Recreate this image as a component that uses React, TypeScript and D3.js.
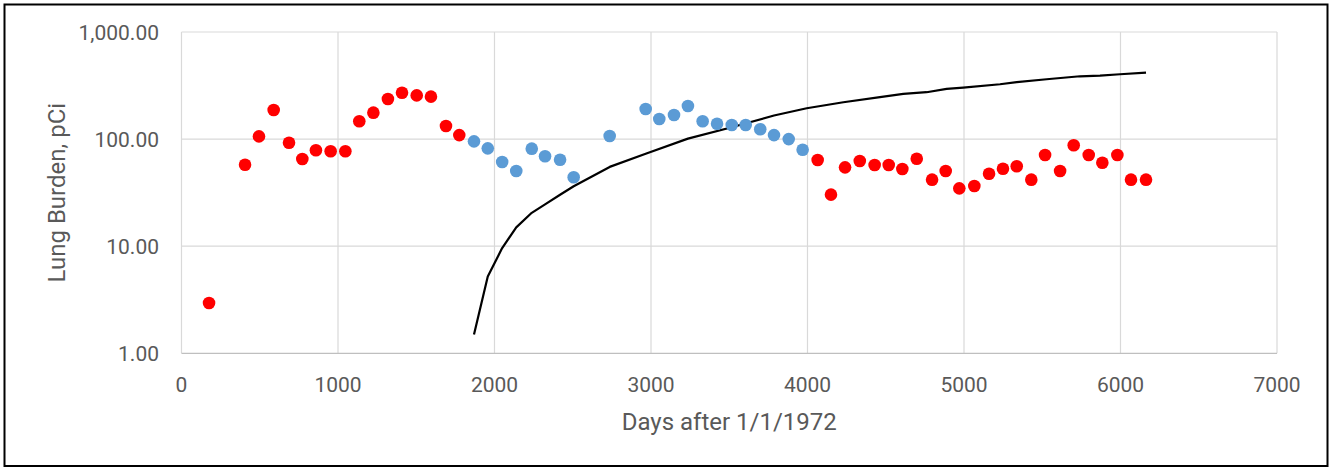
import React from "react";
import * as d3 from "d3";

// ---- data ----
const redDays = [176, 406, 495, 589, 687, 772, 859, 953, 1047, 1136, 1226, 1319, 1409, 1503, 1594, 1690, 1775,
  4065, 4150, 4240, 4334, 4429, 4519, 4606, 4698, 4796, 4883, 4970, 5066, 5160, 5249, 5337, 5430, 5518, 5614, 5701, 5797, 5884, 5980, 6067, 6163];
const redVals = [2.95, 57.7, 106, 187, 92.6, 65.2, 78.6, 76.9, 76.9, 146.6, 176.5, 237, 271, 256, 249, 132.5, 109,
  63.8, 30.3, 54.5, 62.5, 57.3, 57.3, 52.6, 65.6, 41.8, 50.4, 34.7, 36.5, 47.5, 52.9, 55.7, 41.8, 71.1, 50.4, 87.5, 71.1, 60.2, 71.1, 41.8, 41.8];

const blueDays = [1869, 1957, 2049, 2139, 2238, 2323, 2419, 2506, 2736, 2966, 3053, 3147, 3236, 3330, 3422, 3516, 3605, 3698, 3786, 3880, 3969];
const blueVals = [95.3, 82, 61.1, 50.4, 81.4, 69.1, 64.2, 44, 107, 191, 154, 168, 204, 147, 139, 135.5, 135.5, 123.5, 109, 100, 79.6];

const lineDays = [1869, 1957, 2049, 2139, 2238, 2323, 2419, 2506, 2736, 2966, 3236, 3516, 3786, 3995, 4229, 4463, 4612, 4761, 4889, 4995, 5230, 5337, 5528, 5741, 5869, 5997, 6163];
const lineVals = [1.5, 5.2, 9.6, 15.0, 20.5, 24.6, 30.2, 36.3, 55, 73, 101, 129, 166, 194, 221, 247, 264, 274, 294, 302, 325, 341, 362, 386, 391, 403, 417];

const xTicks = [0, 1000, 2000, 3000, 4000, 5000, 6000, 7000];
const yTicks = [1, 10, 100, 1000];

const xTitle = "Days after 1/1/1972";
const yTitle = "Lung Burden, pCi";

export default function App() {
  const W = 1330, H = 468;
  const left = 181.5, right = 1277, top = 32, bottom = 353.3;
  const x = d3.scaleLinear().domain([0, 7000]).range([left, right]);
  const y = d3.scaleLog().domain([1, 1000]).range([bottom, top]);
  const fmt = d3.format(",.2f");
  const font = "Roboto, 'Noto Sans', sans-serif";
  const lineGen = d3.line<number>().x((d, i) => x(lineDays[i])).y((d) => y(d)).curve(d3.curveLinear);

  return (
    <svg width={W} height={H} style={{ position: "absolute", left: 0, top: 0, background: "#fff", display: "block" }}>
      <rect x={0} y={0} width={W} height={H} fill="#fff" />
      {/* grid */}
      {xTicks.map((t) => (
        <line key={"gx" + t} x1={x(t)} x2={x(t)} y1={top} y2={bottom} stroke="#d9d9d9" strokeWidth={1.2} />
      ))}
      {yTicks.map((t) => (
        <line key={"gy" + t} x1={left} x2={right} y1={y(t)} y2={y(t)} stroke={t === 1 ? "#bfbfbf" : "#d9d9d9"} strokeWidth={1.2} />
      ))}
      {/* tick labels */}
      {xTicks.map((t) => (
        <text key={"tx" + t} x={x(t)} y={392} textAnchor="middle" fontFamily={font} fontSize={21} fill="#595959">
          {String(t)}
        </text>
      ))}
      {yTicks.map((t) => (
        <text key={"ty" + t} x={159} y={y(t) + 7.5} textAnchor="end" fontFamily={font} fontSize={21} fill="#595959">
          {fmt(t)}
        </text>
      ))}
      {/* axis titles */}
      <text x={(left + right) / 2} y={429.5} textAnchor="middle" fontFamily={font} fontSize={24} fill="#595959">
        {xTitle}
      </text>
      <text transform={`translate(65,${(top + bottom) / 2}) rotate(-90)`} textAnchor="middle" fontFamily={font} fontSize={24} fill="#595959">
        {yTitle}
      </text>
      {/* line */}
      <path d={lineGen(lineVals) || ""} fill="none" stroke="#000" strokeWidth={2.2} strokeLinejoin="round" />
      {/* points */}
      {blueVals.map((v, i) => (
        <circle key={"b" + i} cx={x(blueDays[i])} cy={y(v)} r={6.3} fill="#5B9BD5" />
      ))}
      {redVals.map((v, i) => (
        <circle key={"r" + i} cx={x(redDays[i])} cy={y(v)} r={6.3} fill="#FF0000" />
      ))}
      {/* outer border */}
      <rect x={4.5} y={4.5} width={1323} height={461.5} fill="none" stroke="#000" strokeWidth={2} />
    </svg>
  );
}
